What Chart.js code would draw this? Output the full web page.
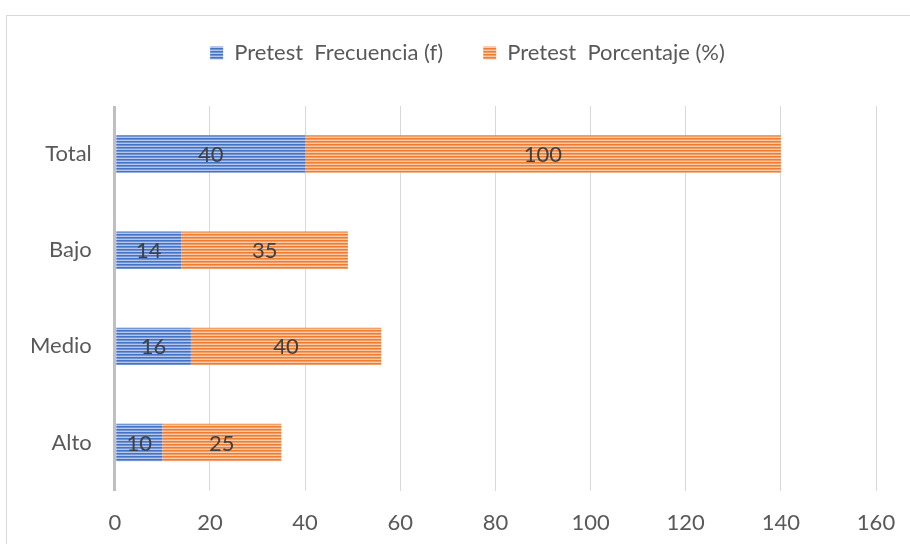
<!DOCTYPE html>
<html lang="es">
<head>
  <meta charset="UTF-8">
  <title>Pretest</title>
  <script src="https://cdn.jsdelivr.net/npm/chart.js"></script>
  <style>
    body { margin: 0; background: #fff; }
    #wrap { width: 910px; height: 544px; position: relative; }
  </style>
</head>
<body>
  <div id="wrap"><canvas id="chart" width="910" height="544"></canvas></div>

  <script>
    // ---------------- data ---------------- //
    const categories = ['Total', 'Bajo', 'Medio', 'Alto'];
    const frecuencia = [40, 14, 16, 10];
    const porcentaje = [100, 35, 40, 25];
    const seriesNames = ['Pretest  Frecuencia (f)', 'Pretest  Porcentaje (%)'];
    const xTicks = [0, 20, 40, 60, 80, 100, 120, 140, 160];

    const FONT = 'Lato, "Liberation Sans", sans-serif';
    const TEXT = '#595959';
    const SIZE = 22;

    // striped fill like the Excel pattern
    function stripes(dark, mid, light) {
      const c = document.createElement('canvas');
      c.width = 4; c.height = 3;
      const g = c.getContext('2d');
      g.fillStyle = dark;  g.fillRect(0, 0, 4, 1);
      g.fillStyle = mid;   g.fillRect(0, 1, 4, 1);
      g.fillStyle = light; g.fillRect(0, 2, 4, 1);
      return g.createPattern(c, 'repeat');
    }
    const ctx = document.getElementById('chart').getContext('2d');
    const bluePat = stripes('#4472C4', '#7094d4', '#b4c7ea');
    const orangePat = stripes('#ED7D31', '#f29e66', '#f8caa8');

    // labels in the middle of each segment
    const barLabels = {
      id: 'barLabels',
      afterDatasetsDraw(chart) {
        const c = chart.ctx;
        c.save();
        c.font = SIZE + 'px ' + FONT;
        c.fillStyle = '#404040';
        c.textAlign = 'center';
        c.textBaseline = 'middle';
        chart.data.datasets.forEach((ds, i) => {
          chart.getDatasetMeta(i).data.forEach((bar, j) => {
            const cx = (bar.x + bar.base) / 2;
            c.fillText(String(ds.data[j]), cx, bar.y + 1);
          });
        });
        c.restore();
      }
    };

    // outer frame of the chart object
    const frame = {
      id: 'frame',
      beforeDraw(chart) {
        const c = chart.ctx;
        c.save();
        c.strokeStyle = '#d9d9d9';
        c.lineWidth = 1;
        c.strokeRect(6.5, 15.5, 960, 600);
        c.restore();
      }
    };

    // extra room under the legend, and legend nudged right like the original
    const legendGap = {
      id: 'legendGap',
      beforeInit(chart) {
        const fit = chart.legend.fit;
        chart.legend.fit = function () {
          fit.bind(chart.legend)();
          this.height += 32;
        };
      },
      afterLayout(chart) {
        chart.legend.left += 26;
        chart.legend.right += 26;
      }
    };

    new Chart(ctx, {
      type: 'bar',
      data: {
        labels: categories,
        datasets: [
          { label: seriesNames[0], data: frecuencia, backgroundColor: bluePat, borderWidth: 0 },
          { label: seriesNames[1], data: porcentaje, backgroundColor: orangePat, borderWidth: 0 }
        ]
      },
      options: {
        indexAxis: 'y',
        responsive: false,
        animation: false,
        devicePixelRatio: 1,
        barPercentage: 0.39,
        categoryPercentage: 1,
        layout: { padding: { left: 7, right: 34, top: 2, bottom: -11 } },
        scales: {
          x: {
            stacked: true,
            min: 0, max: 160,
            afterBuildTicks(axis) { axis.ticks = xTicks.map(v => ({ value: v })); },
            afterFit(axis) { axis.paddingRight = 0; },
            grid: {
              color: c => c.tick && c.tick.value === 0 ? '#bfbfbf' : '#d9d9d9',
              lineWidth: c => c.tick && c.tick.value === 0 ? 3 : 1,
              drawTicks: false
            },
            border: { display: false },
            ticks: { color: TEXT, font: { family: FONT, size: SIZE }, padding: 19 }
          },
          y: {
            stacked: true,
            grid: { display: false, drawTicks: false },
            border: { display: false },
            ticks: { color: TEXT, font: { family: FONT, size: SIZE }, padding: 23 }
          }
        },
        plugins: {
          legend: {
            position: 'top',
            labels: {
              color: TEXT,
              font: { family: FONT, size: SIZE },
              boxWidth: 13, boxHeight: 13,
              padding: 40
            }
          },
          tooltip: { enabled: false }
        }
      },
      plugins: [frame, legendGap, barLabels]
    });
  </script>
</body>
</html>
